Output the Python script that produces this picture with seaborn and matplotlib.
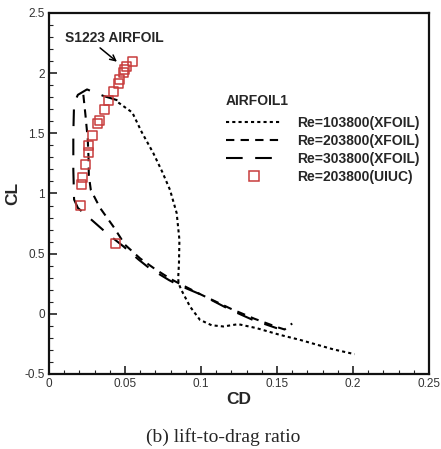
import numpy as np
import matplotlib
matplotlib.use("Agg")
import matplotlib.pyplot as plt
from matplotlib.lines import Line2D
from matplotlib.ticker import MultipleLocator, FixedFormatter, FixedLocator
import seaborn as sns

# Re=103800 (XFOIL), dotted
cd_103 = [0.0456, 0.0548, 0.0610, 0.0686, 0.0745, 0.0796, 0.0840, 0.0858, 0.0855, 0.0850,
          0.0852, 0.0870, 0.0928, 0.0993, 0.1070, 0.1147, 0.1245, 0.1366, 0.1520, 0.1650, 0.1870, 0.2010]
cl_103 = [1.756, 1.673, 1.510, 1.336, 1.180, 1.030, 0.837, 0.615, 0.420, 0.300,
          0.255, 0.200, 0.060, -0.050, -0.095, -0.105, -0.086, -0.119, -0.175, -0.216, -0.295, -0.335]

# Re=203800 (XFOIL), dashed
cd_203 = [0.0226, 0.0240, 0.0255, 0.0260, 0.0262, 0.0275, 0.0336, 0.0423, 0.0500, 0.0600,
          0.0700, 0.0800, 0.0860, 0.1000, 0.1200, 0.1350, 0.1500, 0.1550, 0.1600]
cl_203 = [1.820, 1.650, 1.450, 1.300, 1.150, 1.030, 0.880, 0.726, 0.574, 0.460,
          0.370, 0.290, 0.250, 0.160, 0.040, -0.040, -0.110, -0.130, -0.080]

# Re=303800 (XFOIL), long dash
cd_303 = [0.0450, 0.0360, 0.0250, 0.0190, 0.0165, 0.0160, 0.0160, 0.0165, 0.0190, 0.0290,
          0.0380, 0.0490, 0.0590, 0.0660, 0.0790, 0.0850, 0.1000, 0.1190, 0.1340, 0.1500]
cl_303 = [1.775, 1.810, 1.865, 1.820, 1.750, 1.500, 1.200, 0.950, 0.880, 0.770,
          0.670, 0.560, 0.450, 0.380, 0.280, 0.240, 0.160, 0.035, -0.050, -0.120]

# Re=203800 (UIUC), squares
cd_uiuc = [0.0548, 0.0512, 0.0499, 0.0489, 0.0463, 0.0454, 0.0423, 0.0390, 0.0364, 0.0329,
           0.0320, 0.0283, 0.0257, 0.0259, 0.0237, 0.0222, 0.0211, 0.0204, 0.0439]
cl_uiuc = [2.095, 2.056, 2.034, 2.006, 1.951, 1.917, 1.845, 1.773, 1.702, 1.607,
           1.580, 1.480, 1.397, 1.341, 1.237, 1.137, 1.072, 0.904, 0.582]

labels = ["Re=103800(XFOIL)", "Re=203800(XFOIL)", "Re=303800(XFOIL)", "Re=203800(UIUC)"]
x_ticks = [0, 0.05, 0.1, 0.15, 0.2, 0.25]
x_labels = ["0", "0.05", "0.1", "0.15", "0.2", "0.25"]
y_ticks = [-0.5, 0, 0.5, 1, 1.5, 2, 2.5]
y_labels = ["-0.5", "0", "0.5", "1", "1.5", "2", "2.5"]

sns.set_style("ticks")
plt.rcParams["font.family"] = ["Liberation Sans", "DejaVu Sans"]

red = "#c83c3c"
styles = [(0, (1.5, 1.5)), (0, (4, 3)), (0, (8, 6))]
lw = 1.5

fig = plt.figure(figsize=(4.41, 4.49), dpi=100)
ax = fig.add_axes([49 / 441, 1 - 374 / 449, 380 / 441, 361 / 449])

for cd, cl, ls in zip([cd_103, cd_203, cd_303], [cl_103, cl_203, cl_303], styles):
    sns.lineplot(x=cd, y=cl, sort=False, estimator=None, color="k", linewidth=lw,
                 linestyle=ls, ax=ax)

sns.scatterplot(x=cd_uiuc, y=cl_uiuc, marker="s", s=42, color=red, ax=ax, zorder=5)
for coll in ax.collections:
    coll.set_facecolor("none")
    coll.set_edgecolor(red)
    coll.set_linewidth(1.1)

ax.set_xlim(0, 0.25)
ax.set_ylim(-0.5, 2.5)
ax.xaxis.set_major_locator(FixedLocator(x_ticks))
ax.xaxis.set_major_formatter(FixedFormatter(x_labels))
ax.yaxis.set_major_locator(FixedLocator(y_ticks))
ax.yaxis.set_major_formatter(FixedFormatter(y_labels))
ax.xaxis.set_minor_locator(MultipleLocator(0.01))
ax.yaxis.set_minor_locator(MultipleLocator(0.1))
ax.tick_params(which="both", direction="in", top=False, right=False, width=1.2, color="#222")
ax.tick_params(which="major", length=6, labelsize=8.5, labelcolor="#333", pad=3)
ax.tick_params(which="minor", length=3, width=0.8)
for sp in ax.spines.values():
    sp.set_linewidth(1.6)
    sp.set_color("#111")

ax.set_xlabel("CD", fontsize=12.5, fontweight="bold", labelpad=1)
ax.set_ylabel("CL", fontsize=12.5, fontweight="bold", labelpad=3)

ax.text(0.0428, 2.29, "S1223 AIRFOIL", fontsize=10, fontweight="bold",
        ha="center", va="center")
ax.annotate("", xy=(0.0447, 2.095), xytext=(0.0336, 2.21),
            arrowprops=dict(arrowstyle="->", color="k", lw=1.1, shrinkA=0, shrinkB=0,
                            mutation_scale=10))

ax.text((226 - 49) / 380, (374 - 101) / 361, "AIRFOIL1", transform=ax.transAxes,
        fontsize=10, fontweight="bold", ha="left", va="center")

handles = [Line2D([], [], color="k", lw=lw, linestyle=ls) for ls in styles]
handles.append(Line2D([], [], linestyle="none", marker="s", markersize=6.5,
                      markerfacecolor="none", markeredgecolor=red, markeredgewidth=1.1))
leg = ax.legend(handles, labels, loc="upper left",
                bbox_to_anchor=((226 - 49) / 380, (374 - 116) / 361),
                frameon=False, handlelength=4, handletextpad=1.1, labelspacing=0.28,
                borderpad=0, borderaxespad=0,
                prop={"size": 10, "weight": "bold"})

fig.text(223 / 441, 1 - 437 / 449, "(b) lift-to-drag ratio", ha="center", va="center",
         fontsize=14, family=["Liberation Serif", "DejaVu Serif"])

fig.savefig("out.png", dpi=100)
